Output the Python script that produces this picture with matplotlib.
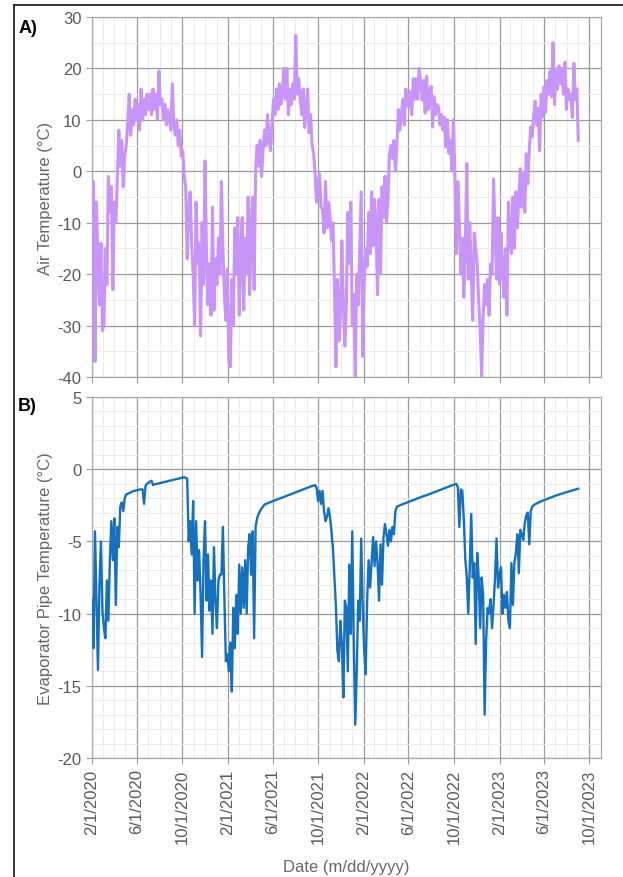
import matplotlib
matplotlib.use("Agg")
import matplotlib.pyplot as plt
import matplotlib.dates as mdates
from matplotlib.ticker import MultipleLocator, FuncFormatter
from matplotlib.lines import Line2D
import pandas as pd

# readings taken every 4 days starting 2/1/2020
start_date = "2020-02-01"
step = "4D"

air_temp = [
    -20, -2, -37, -6, -18, -26, -14, -31,
    -30, -15, -22, -1, -8, -3, -23, -6,
    -10, -2, 8, 1, 6, -3, 3, 5,
    9, 15, 7, 12, 9, 14, 10,
    13, 8, 16, 10, 14, 11, 15, 12,
    15, 11, 16, 12, 15, 10, 19.5, 13,
    14, 10, 13, 9, 12, 10, 8,
    17, 9, 7, 10, 5, 8, 3, 4,
    -1, -3, -17, -8, -4, -14, -20, -30,
    -6, -18, -14, -32, -10, -22, 2, -16,
    -26, -18, -28, -7, -27, -17, -22, -13,
    -20, -2, -15, -24, -29, -19, -37, -38,
    -21, -30, -11, -20, -9, -28, -16,
    -9, -27, -13, -20, -5, -24, -12, -5,
    -23, 0, 5, 1, 6, -1, 4, 8,
    5, 11, 7, 4, 9, 14, 11, 16,
    12, 17, 13, 15, 20, 14, 20,
    11, 16, 13, 17, 14, 26.4, 15, 18,
    14, 11, 16, 8.5, 12, 16, 7.5,
    11, 5, 3.5, -0.5, -6, -2, -0.5, -7,
    -7.5, -12, -2, -11, -6, -8.5, -13.5, -10,
    -22, -38, -21, -33, -28, -13.5, -26, -34,
    -26, -8, -18, -6, -30, -24, -40, -20,
    -26, -15, -4, -36, -22, -15, -18.5, -8,
    -16, -4, -14.5, -5.5, -11, -24, -5.5, -20,
    -3, -9, -1, -10, -5.5, 3.4, 5, 2.5,
    6, 0, 5, 12, 8, 11, 14,
    9, 16, 13, 12.5, 15.5, 11, 18, 14,
    18, 14, 20, 17.5, 13.8, 17.7, 11.3, 18.5,
    12, 15, 16.5, 8.6, 14.5, 11, 13, 12.5,
    9, 11, 8, 10.5, 4.7, 10, 3.5, 6,
    0.2, 10, -0.5, -16, -2, -10, -20, -13,
    -24.5, -14.5, 1.5, -21, -10, -20, -29, -12,
    -15, -18, -25, -31, -40, -28, -22, -26,
    -21, -28, -18, -20, -1.5, -12, -21, -9,
    -22, -12, -19, -24.5, -15, -28, -6, -12,
    -16, -5, -15, -4, -11, -5, 0.5, -7,
    -0.5, -8, 3.4, -2.5, 4, 8.6, 6.7, 11,
    13.6, 9, 12.3, 4, 15, 10.5, 16.4, 11.5,
    17.7, 15, 19.5, 14.5, 25, 13, 19.5, 16,
    20.5, 17, 20, 15, 21.2, 12, 16, 14,
    15, 10.5, 21, 14, 16, 6,
]

pipe_temp = [
    -9, -12.4, -4.3, -9, -13.9, -8, -5, -9.8, -11, -11.7,
    -7.7, -10.5, -6.3, -3.6, -6.3, -3.4, -9.4, -4.0, -5.4, -2.6,
    -2.3, -2.9, -2.0, -1.75, -1.7, -1.65, -1.6, -1.55,
    -1.5, -1.5, -1.45, -1.45, -1.4, -1.4, -1.4,
    -2.4, -1.15, -1.0, -0.95, -0.85, -0.8, -1.1, -1.05,
    -1.03, -1.0, -0.98, -0.96, -0.93, -0.9, -0.88, -0.86, -0.83, -0.8,
    -0.78, -0.76, -0.73, -0.7, -0.68, -0.66, -0.63, -0.6, -0.58, -0.55,
    -0.6, -0.65,
    -5.0, -3.6, -5.9, -2.2, -10.0, -3.6, -7.7, -5.6, -8.7, -13.0,
    -6.3, -3.6, -9.1, -5.9, -9.8, -7.7, -11.4, -5.4, -9.1, -11.0,
    -7.7, -7.3, -7.3, -4.0, -8.9, -13.3, -12.8, -14.0, -12.0, -15.4,
    -9.6, -12.4, -8.7, -11.4, -6.6, -10.0, -6.8, -9.6, -6.3, -10.0,
    -5.4, -4.5, -7.3, -4.3, -11.7,
    -4.0, -3.4, -3.1, -2.9, -2.7, -2.6, -2.45,
    -2.4, -2.36, -2.32, -2.28, -2.23, -2.19, -2.15, -2.11, -2.07, -2.03,
    -2.0, -1.96, -1.92, -1.88, -1.84, -1.8, -1.76, -1.72, -1.68, -1.64,
    -1.6, -1.56, -1.52, -1.48, -1.44, -1.4, -1.36, -1.32, -1.28, -1.24,
    -1.2, -1.16, -1.13, -1.1,
    -1.3, -2.2, -1.5, -2.4, -1.5, -2.9, -3.6, -3.3, -2.7, -3.3,
    -4.3, -5.5, -7.5, -9.5, -12.6, -13.3, -10.5, -12.1, -15.8, -9.1,
    -9.6, -14.0, -6.6, -11.4, -4.3, -12.0, -17.7, -14.0, -9.1, -10.5,
    -4.8, -9.5, -12.5, -14.2, -9.1, -6.3, -8.2, -6.5, -4.7, -6.7,
    -5.0, -6.5, -9.1, -5.2, -8.0, -4.7, -3.8, -4.5, -5.3, -4.2,
    -5.0, -4.0, -4.5, -2.9, -2.6,
    -2.55, -2.5, -2.46, -2.42, -2.38, -2.34, -2.3, -2.26, -2.22, -2.18,
    -2.14, -2.1, -2.06, -2.02, -1.98, -1.94, -1.9, -1.86, -1.83, -1.8,
    -1.76, -1.72, -1.68, -1.64, -1.6, -1.56, -1.52, -1.48, -1.44, -1.4,
    -1.36, -1.32, -1.28, -1.24, -1.2, -1.16, -1.12, -1.08, -1.05, -1.02,
    -1.25, -4.0, -1.4, -1.5, -3.5, -6.2, -7.5, -10.0, -6.8, -3.1,
    -7.5, -6.5, -12.1, -5.8, -7.5, -11.0, -7.5, -8.7, -17.0, -11.9,
    -9.6, -10.0, -9.0, -11.0, -9.4, -7.5, -4.8, -8.2, -7.3, -6.8,
    -10.0, -8.7, -9.6, -8.5, -10.5, -11.0, -6.5, -9.4, -6.5, -5.8,
    -4.5, -7.2, -4.2, -4.5, -4.9, -3.7, -3.2, -3.0, -5.2, -2.9,
    -2.6, -2.5,
    -2.42, -2.37, -2.32, -2.27, -2.22, -2.18, -2.14, -2.1, -2.06, -2.02,
    -1.98, -1.94, -1.9, -1.86, -1.82, -1.79, -1.76, -1.72, -1.69, -1.66,
    -1.62, -1.59, -1.56, -1.53, -1.5, -1.47, -1.44, -1.41, -1.38, -1.35,
]

air_dates = pd.date_range(start_date, periods=len(air_temp), freq=step)
pipe_dates = pd.date_range(start_date, periods=len(pipe_temp), freq=step)

plt.rcParams['font.family'] = ['Liberation Sans', 'DejaVu Sans']
plt.rcParams['axes.unicode_minus'] = False

fig = plt.figure(figsize=(6.23, 8.78), dpi=100)
ax_a = fig.add_axes([0.1477, 0.5695, 0.817, 0.41])
ax_b = fig.add_axes([0.1477, 0.1355, 0.817, 0.4112])

ax_a.plot(air_dates, air_temp, color='#c994f7', lw=2.2, zorder=3)
ax_b.plot(pipe_dates, pipe_temp, color='#1570bd', lw=1.7, zorder=3)

ax_a.set_ylim(-40, 30)
ax_a.yaxis.set_major_locator(MultipleLocator(10))
ax_a.yaxis.set_minor_locator(MultipleLocator(5))
ax_b.set_ylim(-20, 5)
ax_b.yaxis.set_major_locator(MultipleLocator(5))
ax_b.yaxis.set_minor_locator(MultipleLocator(1))


def date_label(x, pos):
    d = mdates.num2date(x)
    return f"{d.month}/{d.day}/{d.year}"


for ax in (ax_a, ax_b):
    ax.set_xlim(pd.Timestamp("2020-02-01"), pd.Timestamp("2023-11-01"))
    ax.xaxis.set_major_locator(mdates.MonthLocator(bymonth=[2, 6, 10]))
    ax.xaxis.set_minor_locator(mdates.MonthLocator())
    ax.xaxis.set_major_formatter(FuncFormatter(date_label))
    ax.grid(which='major', color='#9a9a9a', lw=0.9, zorder=1)
    ax.grid(which='minor', color='#ebebeb', lw=0.7, zorder=0)
    ax.set_axisbelow(True)
    for s in ax.spines.values():
        s.set_color('#a8a8a8')
        s.set_linewidth(0.9)
    ax.tick_params(which='major', length=4, color='#9a9a9a', labelcolor='#595959', labelsize=12)
    ax.tick_params(which='minor', length=0)

ax_a.tick_params(axis='x', labelbottom=False)
ax_b.tick_params(axis='x', rotation=90)

ax_a.set_ylabel("Air Temperature (°C)", color='#666666', fontsize=12, labelpad=3)
ax_b.set_ylabel("Evaporator Pipe Temperature (°C)", color='#666666', fontsize=12, labelpad=3)
ax_b.set_xlabel("Date (m/dd/yyyy)", color='#666666', fontsize=12, labelpad=12)

fig.text(0.029, 0.977, "A)", fontsize=13, fontweight='bold', va='top', ha='left')
fig.text(0.029, 0.547, "B)", fontsize=13, fontweight='bold', va='top', ha='left')

# outline of the original figure panel
fig.add_artist(Line2D([0.023, 1.0], [0.9935, 0.9935], color='#222222', lw=1.3))
fig.add_artist(Line2D([0.023, 0.023], [0.0, 0.9935], color='#222222', lw=1.3))

fig.savefig("out.png", dpi=100)
